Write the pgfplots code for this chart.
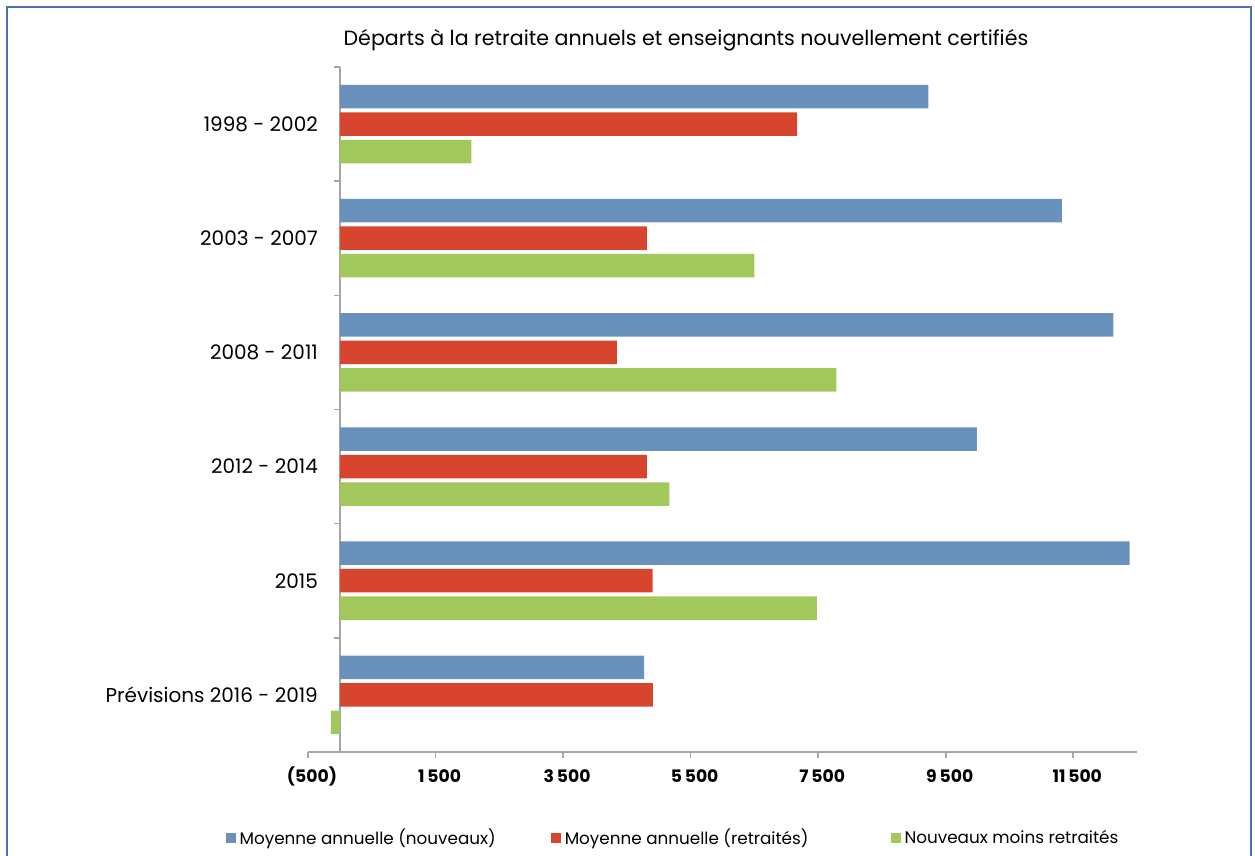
\documentclass[border=0pt]{standalone}
\usepackage{fontspec}
\setmainfont{Poppins}
\usepackage{pgfplots}
\pgfplotsset{compat=1.18}
\definecolor{cblue}{RGB}{106,144,188}
\definecolor{cred}{RGB}{215,69,46}
\definecolor{cgreen}{RGB}{162,200,92}
\definecolor{caxis}{RGB}{166,166,166}
\definecolor{cframe}{RGB}{75,115,175}
\begin{document}
\begin{tikzpicture}
\useasboundingbox (0bp,0bp) rectangle (627.5bp,428bp);
\draw[cframe, line width=1bp] (3.5bp,-10bp) -- (3.5bp,424.5bp) -- (625.5bp,424.5bp) -- (625.5bp,-10bp);
\node[font=\fontsize{10.3bp}{12bp}\selectfont] at (343bp,408bp) {Départs à la retraite annuels et enseignants nouvellement certifiés};
\begin{axis}[
  at={(154bp,52bp)}, anchor=south west,
  width=414.5bp, height=342.5bp, scale only axis,
  xbar, bar width=11.75bp,
  xmin=-500, xmax=12500, ymin=-0.5, ymax=5.5,
  scaled x ticks=false,
  axis x line*=bottom, axis y line*=middle,
  hide obscured x ticks=false, hide obscured y ticks=false,
  axis line style={-, caxis, line width=0.8bp},
  tick align=outside,
  major tick length=3bp, minor tick length=3bp,
  tick style={caxis, line width=0.8bp},
  major y tick style={draw=none},
  xtick={-500,1500,3500,5500,7500,9500,11500},
  xticklabels={(500),1\,500,3\,500,5\,500,7\,500,9\,500,11\,500},
  xticklabel style={font=\bfseries\fontsize{8.6bp}{10bp}\selectfont, text height=6.5bp, text depth=1.5bp, yshift=-2bp, xshift=2bp},
  ytick={0,1,2,3,4,5},
  minor ytick={-0.5,0.5,1.5,2.5,3.5,4.5,5.5},
  yticklabels={Prévisions 2016 - 2019,2015,2012 - 2014,2008 - 2011,2003 - 2007,1998 - 2002},
  yticklabel style={font=\fontsize{10bp}{12bp}\selectfont, xshift=-4.5bp},
  legend columns=3,
  legend style={draw=none, at={(0.4415,-0.1255)}, anchor=center,
    font=\fontsize{8.4bp}{10bp}\selectfont,
    /tikz/column 2/.style={column sep=25.5bp},
    /tikz/column 4/.style={column sep=39bp}},
  legend image code/.code={\fill[#1] (0bp,-2.5bp) rectangle (5bp,2.5bp);},
]
\addplot[fill=cblue, draw=none, bar shift=13.75bp] table {
x y
9230 5
11320 4
12130 3
9990 2
12385 1
4770 0
};
\addplot[fill=cred, draw=none, bar shift=0bp] table {
x y
7170 5
4815 4
4345 3
4815 2
4905 1
4910 0
};
\addplot[fill=cgreen, draw=none, bar shift=-13.75bp] table {
x y
2060 5
6500 4
7785 3
5165 2
7480 1
-140 0
};
\legend{Moyenne annuelle (nouveaux),Moyenne annuelle (retraités),Nouveaux moins retraités}
\end{axis}
\end{tikzpicture}
\end{document}
